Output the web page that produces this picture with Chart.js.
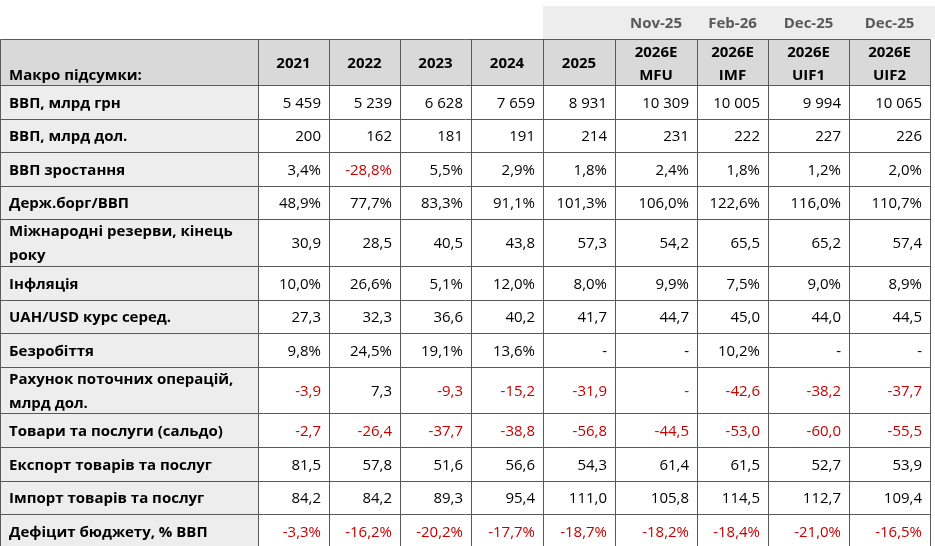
<!DOCTYPE html>
<html>
<head>
<meta charset="utf-8">
<script src="https://cdn.jsdelivr.net/npm/chart.js@4.4.1/dist/chart.umd.min.js"></script>
<style>
  html, body { margin: 0; padding: 0; background: #fff; }
  #wrap { width: 935px; height: 546px; }
</style>
</head>
<body>
<div id="wrap"><canvas id="myChart"></canvas></div>
<script>
// table data
const headerTitle = 'Макро підсумки:';
const forecastDates = ['', '', '', '', '', 'Nov-25', 'Feb-26', 'Dec-25', 'Dec-25'];
const years = ['2021', '2022', '2023', '2024', '2025', '2026E', '2026E', '2026E', '2026E'];
const sources = ['', '', '', '', '', 'MFU', 'IMF', 'UIF1', 'UIF2'];

const indicators = [
  'ВВП, млрд грн',
  'ВВП, млрд дол.',
  'ВВП зростання',
  'Держ.борг/ВВП',
  'Міжнародні резерви, кінець\nроку',
  'Інфляція',
  'UAH/USD курс серед.',
  'Безробіття',
  'Рахунок поточних операцій,\nмлрд дол.',
  'Товари та послуги (сальдо)',
  'Експорт товарів та послуг',
  'Імпорт товарів та послуг',
  'Дефіцит бюджету, % ВВП'
];
const formats = ['int', 'int', 'pct', 'pct', 'dec', 'pct', 'dec', 'pct', 'dec', 'dec', 'dec', 'dec', 'pct'];

const gdpUah = [5459, 5239, 6628, 7659, 8931, 10309, 10005, 9994, 10065];
const gdpUsd = [200, 162, 181, 191, 214, 231, 222, 227, 226];
const gdpGrowth = [3.4, -28.8, 5.5, 2.9, 1.8, 2.4, 1.8, 1.2, 2.0];
const debtToGdp = [48.9, 77.7, 83.3, 91.1, 101.3, 106.0, 122.6, 116.0, 110.7];
const reserves = [30.9, 28.5, 40.5, 43.8, 57.3, 54.2, 65.5, 65.2, 57.4];
const inflation = [10.0, 26.6, 5.1, 12.0, 8.0, 9.9, 7.5, 9.0, 8.9];
const uahUsd = [27.3, 32.3, 36.6, 40.2, 41.7, 44.7, 45.0, 44.0, 44.5];
const unemployment = [9.8, 24.5, 19.1, 13.6, null, null, 10.2, null, null];
const currentAccount = [-3.9, 7.3, -9.3, -15.2, -31.9, null, -42.6, -38.2, -37.7];
const tradeBalance = [-2.7, -26.4, -37.7, -38.8, -56.8, -44.5, -53.0, -60.0, -55.5];
const exportsGS = [81.5, 57.8, 51.6, 56.6, 54.3, 61.4, 61.5, 52.7, 53.9];
const importsGS = [84.2, 84.2, 89.3, 95.4, 111.0, 105.8, 114.5, 112.7, 109.4];
const budgetDeficit = [-3.3, -16.2, -20.2, -17.7, -18.7, -18.2, -18.4, -21.0, -16.5];

const series = [gdpUah, gdpUsd, gdpGrowth, debtToGdp, reserves, inflation, uahUsd,
  unemployment, currentAccount, tradeBalance, exportsGS, importsGS, budgetDeficit];

// layout / style
const labelColWidth = 258;
const colWidths = [71, 71, 71, 72, 72, 82, 71, 81, 81];
const dateRowH = 33, headRowH = 46, rowH = 33.6, extraLineH = 13, lineGap = 24;
const textDy = 1.5;
const dateBandFrom = 4;
const font = '"Open Sans", "Noto Sans", sans-serif';
const lineColor = '#595959';
const red = '#c80000';

const xEdges = [0, labelColWidth];
colWidths.forEach(w => xEdges.push(xEdges[xEdges.length - 1] + w));
const tableW = xEdges[xEdges.length - 1];

const yEdges = [0, dateRowH, dateRowH + headRowH];
indicators.forEach(l => {
  const n = l.split('\n').length;
  yEdges.push(yEdges[yEdges.length - 1] + rowH + (n - 1) * extraLineH);
});
const rowMid = i => (yEdges[i + 2] + yEdges[i + 3]) / 2 + textDy;

function fmt(v, kind) {
  if (v === null) return '-';
  if (kind === 'int') return String(Math.round(v)).replace(/\B(?=(\d{3})+(?!\d))/g, ' ');
  const s = v.toFixed(1).replace('.', ',');
  return kind === 'pct' ? s + '%' : s;
}

// one dataset per value column, one point per row (text anchored to it)
const datasets = years.map((yr, j) => ({
  label: yr + ' ' + sources[j],
  data: series.map((vals, i) => ({ x: xEdges[j + 2] - 8, y: rowMid(i), v: vals[j], row: i })),
  pointRadius: 0
}));

const tablePlugin = {
  id: 'table',
  beforeDatasetsDraw(chart) {
    const { ctx, scales: { x, y } } = chart;
    const px = v => Math.round(x.getPixelForValue(v)) + 0.5;
    const py = v => Math.round(y.getPixelForValue(v)) + 0.5;
    ctx.save();
    // date band
    ctx.fillStyle = '#ededed';
    ctx.fillRect(x.getPixelForValue(xEdges[dateBandFrom + 1]), y.getPixelForValue(0),
      x.right - x.getPixelForValue(xEdges[dateBandFrom + 1]), y.getPixelForValue(dateRowH) - y.getPixelForValue(0));
    // header
    ctx.fillStyle = '#d9d9d9';
    ctx.fillRect(x.getPixelForValue(0), y.getPixelForValue(yEdges[1]),
      x.getPixelForValue(tableW) - x.getPixelForValue(0), y.getPixelForValue(yEdges[2]) - y.getPixelForValue(yEdges[1]));
    // label column
    ctx.fillStyle = '#ededed';
    ctx.fillRect(x.getPixelForValue(0), y.getPixelForValue(yEdges[2]),
      x.getPixelForValue(labelColWidth) - x.getPixelForValue(0),
      y.getPixelForValue(yEdges[yEdges.length - 1]) - y.getPixelForValue(yEdges[2]));
    // grid
    ctx.strokeStyle = lineColor;
    ctx.lineWidth = 1;
    ctx.beginPath();
    for (let k = 1; k < yEdges.length; k++) {
      ctx.moveTo(px(0), py(yEdges[k]));
      ctx.lineTo(px(tableW), py(yEdges[k]));
    }
    xEdges.forEach(e => {
      ctx.moveTo(px(e), py(yEdges[1]));
      ctx.lineTo(px(e), py(yEdges[yEdges.length - 1]));
    });
    ctx.stroke();
    ctx.restore();
  },
  afterDatasetsDraw(chart) {
    const { ctx, scales: { x, y } } = chart;
    ctx.save();
    ctx.textBaseline = 'middle';
    // dates row
    ctx.font = 'bold 15px ' + font;
    ctx.fillStyle = '#595959';
    ctx.textAlign = 'center';
    forecastDates.forEach((d, j) => {
      if (!d) return;
      ctx.fillText(d, x.getPixelForValue((xEdges[j + 1] + xEdges[j + 2]) / 2), y.getPixelForValue(dateRowH / 2 + textDy));
    });
    // header
    ctx.fillStyle = '#000';
    const hTop = yEdges[1], hBot = yEdges[2], hMid = (hTop + hBot) / 2 + textDy;
    years.forEach((yr, j) => {
      const cx = x.getPixelForValue((xEdges[j + 1] + xEdges[j + 2]) / 2);
      if (sources[j]) {
        ctx.fillText(yr, cx, y.getPixelForValue(hMid - 11));
        ctx.fillText(sources[j], cx, y.getPixelForValue(hMid + 12));
      } else {
        ctx.fillText(yr, cx, y.getPixelForValue(hMid));
      }
    });
    ctx.textAlign = 'left';
    ctx.fillText(headerTitle, x.getPixelForValue(9), y.getPixelForValue(hBot - 11 + textDy));
    // row labels
    indicators.forEach((l, i) => {
      const lines = l.split('\n');
      const m = rowMid(i);
      lines.forEach((t, k) => {
        ctx.fillText(t, x.getPixelForValue(9), y.getPixelForValue(m + (k - (lines.length - 1) / 2) * lineGap));
      });
    });
    // values from dataset points
    ctx.font = '15px ' + font;
    ctx.textAlign = 'right';
    chart.data.datasets.forEach((ds, j) => {
      const meta = chart.getDatasetMeta(j);
      meta.data.forEach((pt, i) => {
        const raw = ds.data[i];
        const vals = series[raw.row];
        const neg = raw.v === null ? vals.some(v => v !== null && v < 0) : raw.v < 0;
        ctx.fillStyle = neg ? red : '#000';
        ctx.fillText(fmt(raw.v, formats[raw.row]), pt.x, pt.y);
      });
    });
    ctx.restore();
  }
};

new Chart(document.getElementById('myChart'), {
  type: 'scatter',
  data: { datasets: datasets },
  options: {
    responsive: true,
    maintainAspectRatio: false,
    animation: false,
    layout: { padding: { top: 6, left: 0, right: 0, bottom: 0 } },
    plugins: { legend: { display: false }, tooltip: { enabled: false } },
    scales: {
      x: { type: 'linear', min: 0, max: 935, display: false },
      y: { type: 'linear', min: 0, max: 540, reverse: true, display: false }
    }
  },
  plugins: [tablePlugin]
});
</script>
</body>
</html>
